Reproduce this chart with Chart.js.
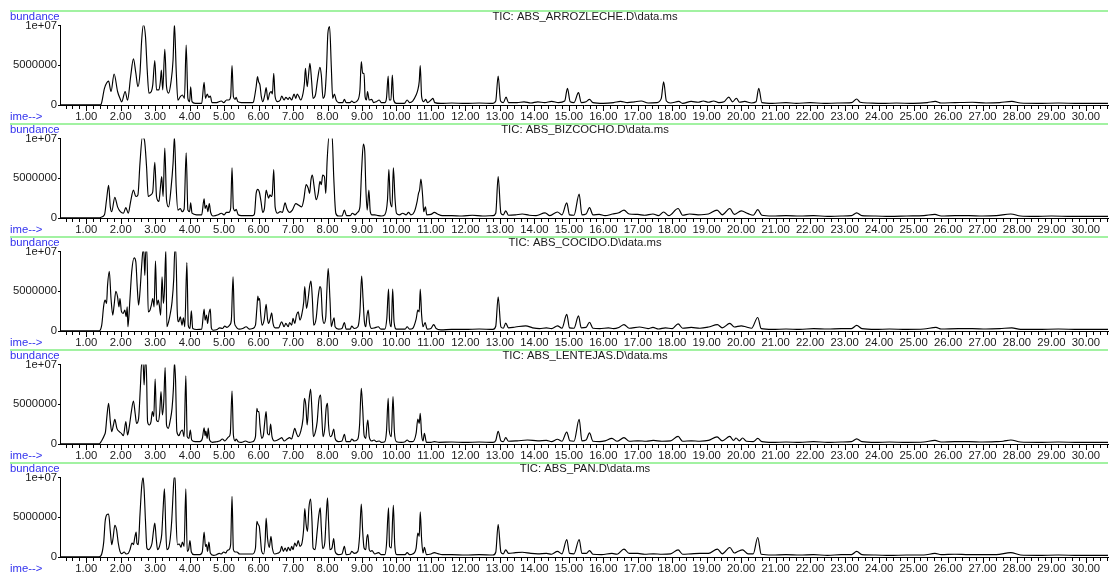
<!DOCTYPE html>
<html><head><meta charset="utf-8">
<script src="https://cdn.jsdelivr.net/npm/chart.js@4.4.1/dist/chart.umd.min.js"></script>
<style>
html,body{margin:0;padding:0;background:#fff;}
#wrap{position:relative;width:1111px;height:577px;overflow:hidden;background:#fff;}
#wrap canvas{position:absolute;left:0;}
</style></head><body><div id="wrap"></div>
<script>
const fileTitles = ["TIC: ABS_ARROZLECHE.D\\data.ms","TIC: ABS_BIZCOCHO.D\\data.ms","TIC: ABS_COCIDO.D\\data.ms","TIC: ABS_LENTEJAS.D\\data.ms","TIC: ABS_PAN.D\\data.ms"];
const yTickValues = [0, 5000000, 10000000];
const yTickLabels = ["0","5000000","1e+07"];
const xMajorTicks = [1,2,3,4,5,6,7,8,9,10,11,12,13,14,15,16,17,18,19,20,21,22,23,24,25,26,27,28,29,30];
const xTickLabels = ["1.00","2.00","3.00","4.00","5.00","6.00","7.00","8.00","9.00","10.00","11.00","12.00","13.00","14.00","15.00","16.00","17.00","18.00","19.00","20.00","21.00","22.00","23.00","24.00","25.00","26.00","27.00","28.00","29.00","30.00"];
const yAxisLabel = "bundance";
const xAxisLabel = "ime-->";
const abundanceUnit = 1e6; // series values are in millions of counts

// [retention time (min), abundance (millions)]
const arrozleche = [[0.24,0.03],[1.40,0.03],[1.43,0.08],[1.53,2.1],[1.65,3.0],[1.72,1.7],[1.81,3.9],[1.91,1.7],[1.98,0.84],[2.03,0.4],[2.13,1.7],[2.20,0.6],[2.29,3.6],[2.37,5.8],[2.44,4.0],[2.50,2.3],[2.56,4.0],[2.61,8.2],[2.66,10.1],[2.72,8.6],[2.77,4.4],[2.82,1.5],[2.89,1.7],[2.93,2.5],[2.99,5.6],[3.04,1.9],[3.11,1.9],[3.15,2.9],[3.18,4.4],[3.22,1.9],[3.28,7.0],[3.33,2.3],[3.39,1.5],[3.46,2.9],[3.52,5.7],[3.56,10.2],[3.61,4.4],[3.66,0.6],[3.73,1.05],[3.79,1.26],[3.85,0.84],[3.90,7.55],[3.95,0.84],[4.00,0.42],[4.03,2.3],[4.07,0.42],[4.16,0.2],[4.35,0.2],[4.42,2.85],[4.46,0.84],[4.51,1.38],[4.56,0.96],[4.60,1.13],[4.65,0.3],[4.78,0.3],[4.92,0.5],[4.99,0.3],[5.07,0.63],[5.14,0.63],[5.19,1.05],[5.23,4.95],[5.27,1.05],[5.32,0.71],[5.35,0.96],[5.40,0.42],[5.50,0.3],[5.83,0.3],[5.86,0.5],[5.93,2.3],[5.97,3.56],[6.00,2.94],[6.04,2.52],[6.08,1.05],[6.12,0.42],[6.18,1.26],[6.22,2.18],[6.27,0.63],[6.32,1.47],[6.37,1.68],[6.40,1.38],[6.44,3.98],[6.48,1.05],[6.55,0.42],[6.63,0.63],[6.67,1.13],[6.74,0.63],[6.79,0.96],[6.86,0.71],[6.90,0.96],[6.96,0.63],[7.03,1.38],[7.08,0.84],[7.12,1.38],[7.17,1.05],[7.22,0.63],[7.29,1.47],[7.33,2.73],[7.36,4.61],[7.41,2.31],[7.44,3.35],[7.49,5.24],[7.54,2.94],[7.58,0.84],[7.65,1.26],[7.71,3.14],[7.78,4.74],[7.82,3.77],[7.87,0.84],[7.92,1.26],[7.97,4.4],[8.01,9.0],[8.06,9.85],[8.11,4.82],[8.15,0.84],[8.20,1.38],[8.25,0.63],[8.32,0.3],[8.44,0.3],[8.49,0.71],[8.54,0.3],[8.66,0.3],[8.70,0.5],[8.77,0.3],[8.88,0.63],[8.94,1.89],[8.98,5.45],[9.02,3.98],[9.06,3.98],[9.09,1.05],[9.13,0.63],[9.16,1.68],[9.21,0.63],[9.28,0.71],[9.34,0.3],[9.42,0.42],[9.50,0.63],[9.56,0.3],[9.66,0.3],[9.71,0.84],[9.76,3.65],[9.79,0.63],[9.84,0.63],[9.88,3.77],[9.92,0.63],[10.00,0.2],[10.23,0.2],[10.31,0.63],[10.38,0.3],[10.47,0.5],[10.57,1.26],[10.62,1.89],[10.66,2.94],[10.69,4.95],[10.73,1.05],[10.79,0.42],[10.85,0.71],[10.90,0.3],[11.00,0.63],[11.06,0.84],[11.11,0.3],[11.29,0.2],[11.6,0.25],[12.0,0.2],[12.4,0.25],[12.8,0.2],[12.88,0.5],[12.95,3.65],[13.02,0.5],[13.1,0.3],[13.18,1.0],[13.25,0.3],[13.5,0.3],[13.7,0.4],[13.9,0.25],[14.1,0.4],[14.3,0.3],[14.5,0.45],[14.7,0.3],[14.88,0.5],[14.96,2.1],[15.04,0.4],[15.15,0.3],[15.28,1.55],[15.36,0.3],[15.5,0.4],[15.6,0.7],[15.7,0.3],[16.0,0.2],[16.3,0.3],[16.5,0.45],[16.7,0.3],[16.9,0.4],[17.1,0.5],[17.3,0.25],[17.55,0.3],[17.68,0.8],[17.75,2.9],[17.83,0.5],[17.95,0.25],[18.19,0.45],[18.3,0.2],[18.55,0.45],[18.75,0.35],[18.9,0.5],[19.05,0.35],[19.2,0.5],[19.35,0.3],[19.5,0.4],[19.64,1.0],[19.75,0.4],[19.86,0.85],[19.95,0.35],[20.1,0.45],[20.3,0.25],[20.43,0.4],[20.51,2.1],[20.6,0.3],[20.9,0.2],[21.3,0.3],[21.6,0.2],[22.0,0.3],[22.4,0.2],[22.8,0.25],[23.2,0.3],[23.35,0.75],[23.45,0.35],[23.7,0.25],[24.1,0.2],[24.5,0.25],[25.0,0.2],[25.4,0.3],[25.63,0.45],[25.8,0.25],[26.2,0.3],[26.7,0.35],[27.1,0.25],[27.5,0.3],[27.85,0.45],[28.1,0.25],[28.6,0.2],[29.2,0.25],[29.8,0.2],[30.64,0.2]];

const bizcocho = [[0.24,0.03],[1.40,0.03],[1.43,0.1],[1.53,0.4],[1.59,2.3],[1.65,4.1],[1.70,1.4],[1.74,0.8],[1.83,2.6],[1.91,1.4],[1.99,0.8],[2.08,0.6],[2.15,1.3],[2.22,0.6],[2.29,2.1],[2.37,3.5],[2.44,2.7],[2.50,2.9],[2.56,6.9],[2.63,10.2],[2.69,9.8],[2.75,6.5],[2.80,2.7],[2.87,2.9],[2.93,3.3],[2.99,7.0],[3.04,2.7],[3.11,2.1],[3.15,3.7],[3.19,5.2],[3.23,2.7],[3.28,8.8],[3.33,2.3],[3.39,1.4],[3.46,3.7],[3.52,6.9],[3.56,10.2],[3.61,3.9],[3.66,1.0],[3.73,1.2],[3.78,0.8],[3.84,1.1],[3.90,8.2],[3.95,1.0],[4.00,0.8],[4.03,1.9],[4.07,0.6],[4.20,0.4],[4.35,0.4],[4.42,2.4],[4.45,1.2],[4.49,1.6],[4.53,0.8],[4.57,1.8],[4.61,0.7],[4.68,0.25],[4.83,0.4],[4.92,0.6],[5.00,0.4],[5.07,0.7],[5.14,0.7],[5.19,1.2],[5.23,6.3],[5.27,1.2],[5.32,0.9],[5.35,1.1],[5.41,0.4],[5.50,0.3],[5.83,0.3],[5.88,0.5],[5.93,3.1],[5.98,3.6],[6.02,3.3],[6.07,2.1],[6.12,0.7],[6.17,1.2],[6.22,3.5],[6.26,2.9],[6.29,2.5],[6.33,2.9],[6.37,2.7],[6.40,3.1],[6.44,6.1],[6.48,1.4],[6.55,0.6],[6.63,0.8],[6.69,0.7],[6.77,1.9],[6.82,1.2],[6.90,0.7],[6.98,1.0],[7.08,1.8],[7.17,1.6],[7.25,1.4],[7.31,2.3],[7.38,4.2],[7.44,3.75],[7.48,3.1],[7.52,4.8],[7.56,5.4],[7.61,4.0],[7.67,2.3],[7.73,3.1],[7.78,4.6],[7.82,4.2],[7.86,5.4],[7.91,5.2],[7.95,3.1],[7.99,7.3],[8.05,10.5],[8.09,10.5],[8.13,10.5],[8.18,5.2],[8.21,2.3],[8.24,0.6],[8.32,0.25],[8.42,0.25],[8.49,1.0],[8.55,0.3],[8.66,0.3],[8.72,0.6],[8.80,0.4],[8.87,0.7],[8.94,1.4],[8.99,6.1],[9.04,9.3],[9.08,8.4],[9.11,4.0],[9.15,1.0],[9.20,3.5],[9.24,0.8],[9.29,0.4],[9.37,0.4],[9.47,0.3],[9.56,0.25],[9.66,0.4],[9.74,2.3],[9.78,6.1],[9.82,2.1],[9.87,1.4],[9.91,6.3],[9.96,2.3],[10.00,0.6],[10.09,0.4],[10.18,0.6],[10.28,0.4],[10.35,0.7],[10.42,0.4],[10.52,0.8],[10.60,2.1],[10.64,3.1],[10.67,3.5],[10.71,4.9],[10.76,2.7],[10.79,0.8],[10.84,1.4],[10.88,0.4],[11.0,0.45],[11.1,0.7],[11.19,0.5],[11.33,0.3],[11.6,0.3],[11.9,0.25],[12.2,0.35],[12.5,0.25],[12.8,0.3],[12.88,0.6],[12.95,5.2],[13.03,0.6],[13.1,0.4],[13.17,0.9],[13.25,0.35],[13.45,0.4],[13.65,0.5],[13.85,0.35],[14.05,0.3],[14.31,0.65],[14.45,0.3],[14.67,0.75],[14.8,0.4],[14.94,1.9],[15.02,0.4],[15.15,0.35],[15.3,3.0],[15.38,0.4],[15.5,0.5],[15.6,1.3],[15.7,0.4],[15.88,0.45],[16.05,0.3],[16.27,0.5],[16.45,0.65],[16.6,1.0],[16.75,0.5],[17.0,0.45],[17.2,0.35],[17.44,0.5],[17.6,0.3],[17.75,0.75],[17.9,0.3],[18.17,1.2],[18.3,0.35],[18.5,0.5],[18.75,0.4],[19.05,0.5],[19.3,1.0],[19.45,0.4],[19.67,1.2],[19.8,0.45],[20.0,0.9],[20.2,0.55],[20.35,0.35],[20.48,1.05],[20.6,0.35],[20.9,0.25],[21.3,0.3],[21.7,0.25],[22.1,0.3],[22.5,0.2],[22.9,0.25],[23.2,0.3],[23.35,0.65],[23.5,0.3],[23.9,0.25],[24.3,0.2],[24.8,0.25],[25.3,0.3],[25.62,0.45],[25.8,0.25],[26.2,0.3],[26.6,0.3],[27.0,0.25],[27.4,0.3],[27.82,0.5],[28.1,0.25],[28.5,0.2],[29.0,0.25],[29.6,0.2],[30.64,0.2]];

const cocido = [[0.24,0.03],[1.38,0.03],[1.45,0.74],[1.51,3.25],[1.55,3.88],[1.59,3.46],[1.62,5.77],[1.67,7.5],[1.72,4.09],[1.77,2.0],[1.81,3.25],[1.86,5.0],[1.91,4.3],[1.95,3.04],[1.98,4.09],[2.02,2.5],[2.07,2.2],[2.12,2.62],[2.16,1.79],[2.19,3.04],[2.21,0.53],[2.27,4.09],[2.32,7.44],[2.39,9.2],[2.44,8.7],[2.48,5.6],[2.52,3.25],[2.56,4.93],[2.61,8.28],[2.65,10.2],[2.67,10.2],[2.70,7.0],[2.73,10.2],[2.76,10.2],[2.80,2.41],[2.85,2.62],[2.89,3.25],[2.93,4.09],[2.97,3.04],[3.01,8.8],[3.05,3.25],[3.09,3.88],[3.12,3.25],[3.16,2.0],[3.20,6.8],[3.24,3.46],[3.27,5.13],[3.31,10.2],[3.34,0.53],[3.39,1.16],[3.44,2.2],[3.49,3.67],[3.54,6.6],[3.57,10.2],[3.60,10.2],[3.64,2.62],[3.68,1.16],[3.73,1.79],[3.78,0.74],[3.82,1.66],[3.86,0.53],[3.92,8.6],[3.96,0.74],[4.01,0.32],[4.05,2.54],[4.09,0.32],[4.20,0.19],[4.35,0.23],[4.42,2.75],[4.45,1.37],[4.49,2.0],[4.52,0.95],[4.56,2.2],[4.60,2.75],[4.63,0.4],[4.68,0.1],[4.80,0.19],[4.87,0.4],[4.95,0.32],[5.02,0.61],[5.08,0.45],[5.16,0.74],[5.21,1.37],[5.26,6.8],[5.30,1.16],[5.33,0.65],[5.37,0.4],[5.45,0.23],[5.54,0.32],[5.64,0.53],[5.73,0.23],[5.83,0.32],[5.91,0.74],[5.95,2.83],[5.98,4.4],[6.00,3.88],[6.03,4.09],[6.06,2.2],[6.10,0.74],[6.16,1.37],[6.22,3.35],[6.26,1.49],[6.29,0.95],[6.34,1.58],[6.38,2.29],[6.42,0.95],[6.48,0.4],[6.58,0.4],[6.67,1.16],[6.74,0.53],[6.79,0.95],[6.86,0.53],[6.90,1.07],[6.96,0.74],[7.00,1.58],[7.05,0.95],[7.10,2.0],[7.15,2.41],[7.20,1.37],[7.25,2.0],[7.31,3.67],[7.34,5.6],[7.39,2.83],[7.44,4.09],[7.48,5.6],[7.52,6.27],[7.56,4.09],[7.60,0.74],[7.67,1.58],[7.73,4.3],[7.78,5.6],[7.81,5.34],[7.85,2.0],[7.90,0.95],[7.95,1.79],[7.98,4.93],[8.02,7.86],[8.07,4.09],[8.11,0.53],[8.15,1.16],[8.19,1.66],[8.22,0.53],[8.32,0.23],[8.42,0.32],[8.49,1.07],[8.54,0.23],[8.66,0.23],[8.70,0.61],[8.78,0.32],[8.88,0.53],[8.94,2.41],[8.99,6.9],[9.03,4.09],[9.07,1.16],[9.11,0.53],[9.14,1.79],[9.18,2.62],[9.22,0.95],[9.28,0.32],[9.37,0.4],[9.47,0.53],[9.55,0.23],[9.66,0.23],[9.72,1.58],[9.77,5.26],[9.80,1.37],[9.85,0.53],[9.89,5.26],[9.93,1.16],[10.00,0.23],[10.14,0.23],[10.25,0.23],[10.31,0.53],[10.38,0.23],[10.47,0.32],[10.57,1.49],[10.62,2.62],[10.66,2.41],[10.69,5.26],[10.73,2.0],[10.77,0.53],[10.83,1.07],[10.89,0.23],[11.0,0.32],[11.08,0.8],[11.15,0.32],[11.29,0.15],[11.6,0.2],[12.0,0.2],[12.4,0.25],[12.8,0.2],[12.88,0.6],[12.95,4.3],[13.03,0.5],[13.1,0.35],[13.17,1.0],[13.25,0.4],[13.45,0.5],[13.75,0.65],[13.95,0.4],[14.15,0.3],[14.35,0.4],[14.5,0.3],[14.67,0.65],[14.8,0.35],[14.94,2.1],[15.02,0.4],[15.15,0.35],[15.28,1.9],[15.36,0.4],[15.5,0.45],[15.6,1.1],[15.7,0.35],[15.9,0.3],[16.15,0.4],[16.3,0.3],[16.45,0.45],[16.6,0.8],[16.75,0.35],[17.05,0.5],[17.3,0.3],[17.44,0.45],[17.6,0.25],[17.8,0.4],[18.0,0.3],[18.17,0.9],[18.3,0.35],[18.55,0.45],[18.8,0.35],[19.05,0.5],[19.31,0.8],[19.45,0.4],[19.67,0.95],[19.8,0.5],[20.0,0.65],[20.15,0.5],[20.3,0.35],[20.48,1.7],[20.58,0.3],[20.9,0.2],[21.3,0.25],[21.7,0.2],[22.1,0.3],[22.5,0.25],[22.9,0.3],[23.2,0.3],[23.35,0.7],[23.5,0.3],[23.9,0.2],[24.3,0.25],[24.8,0.2],[25.3,0.25],[25.65,0.45],[25.8,0.25],[26.3,0.3],[26.7,0.3],[27.1,0.25],[27.5,0.3],[27.85,0.4],[28.1,0.2],[28.6,0.2],[29.2,0.25],[29.8,0.2],[30.64,0.2]];

const lentejas = [[0.24,0.03],[1.38,0.03],[1.46,0.5],[1.53,1.13],[1.56,1.55],[1.60,3.44],[1.65,5.11],[1.70,2.81],[1.74,1.55],[1.79,2.39],[1.83,3.1],[1.89,1.97],[1.96,1.55],[2.02,1.34],[2.08,1.05],[2.15,2.81],[2.20,1.13],[2.25,2.18],[2.31,4.07],[2.37,5.41],[2.42,3.86],[2.46,2.6],[2.52,3.23],[2.57,7.0],[2.61,10.2],[2.65,10.2],[2.68,7.42],[2.71,10.2],[2.74,10.2],[2.78,2.81],[2.83,2.39],[2.88,2.81],[2.92,4.07],[2.96,3.44],[3.00,8.17],[3.04,3.02],[3.09,2.81],[3.13,3.86],[3.17,6.58],[3.21,3.65],[3.25,5.32],[3.29,9.6],[3.33,2.39],[3.38,1.97],[3.44,3.02],[3.49,4.48],[3.53,7.0],[3.56,10.2],[3.59,8.26],[3.63,1.55],[3.69,1.05],[3.74,1.55],[3.79,1.76],[3.84,0.92],[3.89,8.59],[3.93,0.92],[3.98,0.71],[4.02,1.76],[4.06,0.5],[4.16,0.29],[4.30,0.29],[4.37,0.71],[4.42,2.05],[4.45,1.05],[4.47,1.63],[4.51,0.71],[4.54,2.0],[4.58,0.5],[4.66,0.21],[4.78,0.29],[4.87,0.38],[4.95,0.63],[5.02,0.38],[5.09,0.71],[5.14,0.92],[5.18,1.34],[5.23,6.66],[5.27,1.13],[5.32,0.38],[5.35,0.63],[5.41,0.29],[5.50,0.21],[5.62,0.38],[5.73,0.21],[5.83,0.29],[5.91,0.92],[5.95,4.48],[5.98,4.07],[6.01,4.07],[6.04,2.39],[6.09,0.71],[6.14,1.13],[6.19,3.23],[6.22,4.07],[6.26,1.34],[6.31,1.13],[6.35,2.5],[6.39,0.92],[6.46,0.38],[6.55,0.5],[6.64,0.71],[6.67,0.8],[6.74,0.38],[6.83,0.63],[6.90,0.8],[6.96,0.63],[7.00,1.22],[7.05,1.97],[7.10,1.34],[7.15,0.92],[7.22,1.55],[7.29,3.23],[7.33,5.74],[7.37,4.9],[7.41,2.39],[7.46,5.32],[7.51,6.92],[7.55,4.07],[7.59,0.92],[7.65,1.55],[7.70,2.81],[7.75,5.53],[7.80,6.16],[7.83,3.86],[7.87,0.92],[7.92,1.97],[7.96,4.48],[8.00,5.11],[8.03,2.39],[8.08,0.92],[8.13,1.13],[8.18,1.89],[8.22,0.71],[8.31,0.29],[8.42,0.38],[8.49,1.22],[8.54,0.29],[8.66,0.29],[8.70,0.63],[8.78,0.38],[8.88,0.63],[8.93,2.39],[8.98,7.0],[9.02,4.48],[9.06,1.13],[9.11,0.71],[9.14,2.18],[9.17,3.02],[9.21,0.92],[9.28,0.38],[9.35,0.5],[9.42,0.29],[9.50,0.38],[9.56,0.21],[9.66,0.29],[9.71,1.55],[9.76,5.74],[9.79,1.76],[9.85,0.92],[9.90,5.95],[9.94,1.55],[10.00,0.29],[10.14,0.21],[10.25,0.29],[10.31,0.5],[10.38,0.29],[10.47,0.29],[10.57,1.34],[10.62,3.14],[10.66,2.6],[10.69,3.86],[10.73,1.13],[10.77,0.38],[10.81,1.34],[10.87,0.21],[11.0,0.21],[11.1,0.29],[11.24,0.21],[11.6,0.25],[12.0,0.2],[12.4,0.25],[12.8,0.2],[12.88,0.45],[12.95,1.6],[13.03,0.4],[13.1,0.3],[13.17,0.8],[13.25,0.35],[13.5,0.4],[13.8,0.5],[14.1,0.4],[14.35,0.45],[14.5,0.3],[14.67,0.6],[14.8,0.35],[14.94,1.5],[15.03,0.4],[15.15,0.35],[15.3,3.1],[15.38,0.4],[15.5,0.5],[15.6,1.4],[15.7,0.35],[15.9,0.3],[16.05,0.4],[16.25,0.7],[16.4,0.35],[16.6,0.8],[16.75,0.35],[17.0,0.4],[17.25,0.35],[17.45,0.45],[17.7,0.35],[17.95,0.4],[18.17,0.95],[18.3,0.35],[18.55,0.4],[18.8,0.35],[19.05,0.45],[19.3,0.9],[19.45,0.4],[19.67,0.95],[19.78,0.45],[19.85,0.75],[19.95,0.4],[20.04,0.75],[20.15,0.35],[20.35,0.3],[20.48,0.7],[20.6,0.3],[20.9,0.2],[21.3,0.25],[21.7,0.2],[22.1,0.3],[22.5,0.2],[22.9,0.25],[23.2,0.3],[23.35,0.65],[23.5,0.3],[23.9,0.2],[24.3,0.25],[24.8,0.2],[25.3,0.25],[25.62,0.45],[25.8,0.25],[26.2,0.3],[26.6,0.3],[27.0,0.25],[27.4,0.3],[27.6,0.35],[27.82,0.5],[28.1,0.25],[28.6,0.2],[29.2,0.25],[29.8,0.2],[30.64,0.2]];

const pan = [[0.24,0.03],[1.38,0.03],[1.45,0.38],[1.51,1.97],[1.55,4.49],[1.60,5.33],[1.65,5.41],[1.70,3.23],[1.74,1.55],[1.78,2.39],[1.83,3.99],[1.88,3.44],[1.93,1.76],[1.98,0.71],[2.03,0.42],[2.10,0.63],[2.16,0.38],[2.22,0.46],[2.27,0.92],[2.33,1.76],[2.37,1.55],[2.41,2.48],[2.45,3.15],[2.47,1.76],[2.51,1.55],[2.56,5.33],[2.61,8.9],[2.65,10.0],[2.68,8.48],[2.72,4.49],[2.76,1.13],[2.81,0.92],[2.86,1.13],[2.91,1.76],[2.95,3.23],[2.99,4.28],[3.03,2.39],[3.07,0.92],[3.11,1.13],[3.15,1.76],[3.19,2.81],[3.23,5.96],[3.27,8.56],[3.31,3.23],[3.34,0.92],[3.39,1.13],[3.44,2.39],[3.48,4.49],[3.52,7.85],[3.55,10.0],[3.58,10.0],[3.61,4.49],[3.65,1.55],[3.70,1.64],[3.75,1.22],[3.79,1.89],[3.84,1.34],[3.89,8.56],[3.93,0.71],[3.97,0.92],[4.01,2.06],[4.05,0.63],[4.13,0.29],[4.30,0.29],[4.37,0.71],[4.42,3.15],[4.46,1.34],[4.49,1.55],[4.52,0.71],[4.56,1.89],[4.60,0.5],[4.69,0.21],[4.78,0.29],[4.86,0.46],[4.92,0.38],[4.99,0.63],[5.05,0.5],[5.09,0.8],[5.14,0.92],[5.19,1.55],[5.23,7.64],[5.27,0.92],[5.32,0.63],[5.37,0.63],[5.45,0.38],[5.59,0.38],[5.74,0.38],[5.83,0.38],[5.91,1.13],[5.95,4.49],[5.99,4.07],[6.02,3.86],[6.05,2.6],[6.09,0.71],[6.15,0.38],[6.19,1.97],[6.22,4.91],[6.26,2.39],[6.31,1.22],[6.36,2.6],[6.40,1.13],[6.46,0.38],[6.55,0.46],[6.63,0.71],[6.67,1.34],[6.72,0.71],[6.77,1.13],[6.82,0.71],[6.86,1.22],[6.92,0.8],[6.96,1.34],[7.00,0.92],[7.05,1.76],[7.10,1.34],[7.15,2.06],[7.20,1.34],[7.26,1.76],[7.31,3.65],[7.34,6.08],[7.38,4.07],[7.42,3.23],[7.46,6.17],[7.51,7.3],[7.55,4.49],[7.58,1.13],[7.64,0.92],[7.70,3.23],[7.75,5.33],[7.79,6.17],[7.82,3.65],[7.86,1.05],[7.92,1.76],[7.96,4.91],[8.00,7.43],[8.03,4.49],[8.07,0.92],[8.13,1.13],[8.18,2.31],[8.22,0.71],[8.31,0.29],[8.42,0.38],[8.49,1.34],[8.54,0.29],[8.66,0.38],[8.70,0.71],[8.78,0.46],[8.88,0.71],[8.93,2.6],[8.98,6.67],[9.02,3.23],[9.06,1.13],[9.11,0.92],[9.14,2.39],[9.17,2.81],[9.21,0.92],[9.25,0.71],[9.29,0.8],[9.37,0.38],[9.48,0.55],[9.56,0.29],[9.66,0.29],[9.71,1.55],[9.77,6.17],[9.80,1.34],[9.85,1.13],[9.91,6.5],[9.95,1.55],[10.01,0.29],[10.14,0.29],[10.25,0.29],[10.31,0.55],[10.38,0.29],[10.47,0.38],[10.57,1.13],[10.62,3.02],[10.66,2.6],[10.69,5.67],[10.73,2.18],[10.77,0.5],[10.81,1.22],[10.87,0.29],[11.0,0.38],[11.1,0.55],[11.2,0.42],[11.33,0.29],[11.6,0.3],[12.0,0.25],[12.4,0.3],[12.8,0.25],[12.88,0.6],[12.95,4.1],[13.03,0.6],[13.1,0.4],[13.17,0.9],[13.25,0.45],[13.45,0.55],[13.65,0.6],[13.9,0.45],[14.1,0.4],[14.35,0.45],[14.5,0.35],[14.67,0.7],[14.8,0.4],[14.94,2.2],[15.02,0.45],[15.15,0.4],[15.3,2.2],[15.38,0.45],[15.5,0.45],[15.6,0.8],[15.7,0.35],[15.95,0.3],[16.25,0.45],[16.4,0.35],[16.6,1.0],[16.75,0.45],[17.0,0.45],[17.2,0.35],[17.45,0.4],[17.7,0.35],[17.95,0.4],[18.17,0.9],[18.3,0.35],[18.55,0.4],[18.8,0.45],[19.05,0.45],[19.31,1.0],[19.45,0.4],[19.67,1.2],[19.8,0.5],[19.9,0.7],[20.04,0.9],[20.2,0.4],[20.35,0.4],[20.48,2.45],[20.58,0.35],[20.9,0.25],[21.3,0.3],[21.7,0.25],[22.1,0.3],[22.5,0.2],[22.9,0.3],[23.2,0.3],[23.35,0.7],[23.5,0.3],[23.9,0.25],[24.3,0.2],[24.8,0.25],[25.3,0.25],[25.62,0.45],[25.8,0.3],[26.2,0.35],[26.6,0.3],[27.0,0.3],[27.4,0.3],[27.82,0.55],[28.1,0.25],[28.6,0.2],[29.2,0.25],[29.8,0.2],[30.64,0.2]];

const panelSeries = [arrozleche, bizcocho, cocido, lentejas, pan];

const FONT_FAMILY = '"Liberation Sans", Arial, Helvetica, sans-serif';
const FONT_SIZE = 11.3;
const TEXT_COLOR = '#1a1a1a';
const BLUE = '#3232ee';
const GREEN = '#a2f2a2';
const PANEL_PITCH = 113;
const CANVAS_H = 121;
const AREA_BOTTOM = 99;

const decorPlugin = {
  id: 'msdDecor',
  afterDraw(chart, args, opts) {
    const ctx = chart.ctx, area = chart.chartArea, xs = chart.scales.x;
    ctx.save();
    // green separator line
    ctx.strokeStyle = GREEN; ctx.lineWidth = 2;
    ctx.beginPath(); ctx.moveTo(10, 5); ctx.lineTo(area.right, 5); ctx.stroke();
    // x ticks (minor every 0.2 min, major each minute)
    ctx.strokeStyle = '#000'; ctx.lineWidth = 1;
    ctx.beginPath();
    for (let k = 2; k <= 153; k++) {
      const v = k / 5;
      if (v > xs.max) break;
      const px = Math.round(xs.getPixelForValue(v)) + 0.5;
      const len = (k % 5 === 0) ? 6 : 4;
      ctx.moveTo(px, Math.round(area.bottom));
      ctx.lineTo(px, Math.round(area.bottom) + len);
    }
    ctx.stroke();
    // texts
    ctx.font = FONT_SIZE + 'px ' + FONT_FAMILY;
    ctx.textBaseline = 'middle';
    ctx.fillStyle = BLUE; ctx.textAlign = 'left';
    ctx.fillText(yAxisLabel, 10, 11);
    ctx.fillText(xAxisLabel, 10, 111);
    ctx.fillStyle = TEXT_COLOR; ctx.textAlign = 'center';
    ctx.fillText(opts.title, (area.left + area.right) / 2 + 1, 11);
    ctx.restore();
  }
};

const wrap = document.getElementById('wrap');
panelSeries.forEach((series, i) => {
  const canvas = document.createElement('canvas');
  canvas.width = 1111; canvas.height = CANVAS_H;
  canvas.style.width = '1111px'; canvas.style.height = CANVAS_H + 'px';
  canvas.style.top = (6 + i * PANEL_PITCH) + 'px';
  wrap.appendChild(canvas);
  new Chart(canvas, {
    type: 'line',
    data: {
      datasets: [{
        data: series.map(p => ({ x: p[0], y: p[1] * abundanceUnit })),
        borderColor: '#000', borderWidth: 1.15, pointRadius: 0,
        cubicInterpolationMode: 'monotone', fill: false
      }]
    },
    options: {
      responsive: false, animation: false, devicePixelRatio: 1,
      layout: { padding: { top: 19.5, left: 0, right: 3, bottom: 0 } },
      plugins: { legend: { display: false }, tooltip: { enabled: false }, msdDecor: { title: fileTitles[i] } },
      scales: {
        x: {
          type: 'linear', min: 0.24, max: 30.64,
          afterBuildTicks: s => { s.ticks = xMajorTicks.map(v => ({ value: v })); },
          afterFit: s => { s.height = CANVAS_H - AREA_BOTTOM; s.paddingLeft = 0; s.paddingRight = 0; },
          ticks: { autoSkip: false, maxRotation: 0, minRotation: 0, padding: 5, color: TEXT_COLOR,
                   font: { family: FONT_FAMILY, size: FONT_SIZE },
                   callback: (v, idx) => xTickLabels[idx] },
          grid: { display: false, drawTicks: false },
          border: { display: true, color: '#000', width: 1 }
        },
        y: {
          type: 'linear', min: 0, max: 10000000,
          afterBuildTicks: s => { s.ticks = yTickValues.map(v => ({ value: v })); },
          afterFit: s => { s.width = 60; s.paddingTop = 0; s.paddingBottom = 0; },
          ticks: { padding: 1, color: TEXT_COLOR, font: { family: FONT_FAMILY, size: FONT_SIZE },
                   callback: (v, idx) => yTickLabels[idx] },
          grid: { drawOnChartArea: false, drawTicks: true, tickLength: 2, color: '#000' },
          border: { display: true, color: '#000', width: 1 }
        }
      }
    },
    plugins: [decorPlugin]
  });
});
</script>
</body></html>
